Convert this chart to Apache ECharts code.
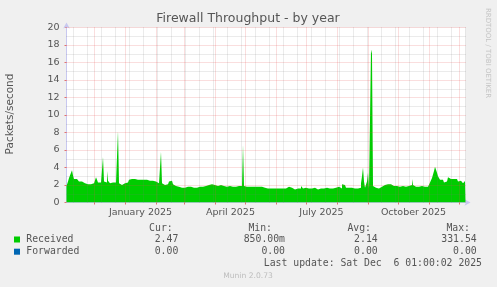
<!DOCTYPE html>
<html><head><meta charset="utf-8">
<script src="https://cdn.jsdelivr.net/npm/echarts@6/dist/echarts.min.js"></script>
<style>html,body{margin:0;padding:0;background:#f0f0f0}#c{width:497px;height:287px}</style>
</head><body><div id="c"></div>
<script>
const chartTitle = 'Firewall Throughput - by year';
const yAxisTitle = 'Packets/second';
const sideText = 'RRDTOOL / TOBI OETIKER';
const footerText = 'Munin 2.0.73';
const lastUpdate = 'Last update: Sat Dec  6 01:00:02 2025';
const firstDay = '2024-11-03';
const dayCount = 400;
const monthNames = ['January','February','March','April','May','June','July','August','September','October','November','December'];
const xLabelDates = ['2025-01-16','2025-04-16','2025-07-16','2025-10-16'];
const seriesNames = ['Received', 'Forwarded'];
const seriesColors = ['#00cc00', '#0066b3'];
const statHeaders = ['Cur:', 'Min:', 'Avg:', 'Max:'];
const receivedStats = ['2.47', '850.00m', '2.14', '331.54'];
const forwardedStats = ['0.00', '0.00', '0.00', '0.00'];
// daily average packets/second, one value per day from firstDay
const received = [
 1.9,2.1,2.4,2.8,3.0,3.4,3.7,3.1,2.7,2.6,2.7,2.5,2.6,2.4,2.3,2.4,2.3,2.2,2.2,2.1,
 2.0,2.1,2.0,2.0,2.1,2.0,2.1,2.2,2.1,2.4,2.9,2.6,2.3,2.2,2.3,2.1,2.2,5.2,2.4,2.2,
 2.3,3.6,2.5,2.3,2.2,2.4,2.3,2.2,2.4,2.3,2.2,2.3,8.2,2.2,2.1,2.0,2.1,2.0,2.2,2.1,
 2.2,2.3,2.5,2.6,2.5,2.7,2.8,2.6,2.7,2.9,2.7,2.6,2.8,2.7,2.6,2.7,2.8,2.6,2.7,2.5,
 2.6,2.7,2.6,2.5,2.7,2.6,2.5,2.6,2.5,2.4,2.6,2.3,2.2,2.1,2.4,5.8,2.2,2.1,2.0,2.1,
 2.0,2.1,2.2,2.4,2.6,2.5,2.3,2.1,2.0,1.9,1.9,1.8,1.8,1.9,1.8,1.7,1.8,1.7,1.7,1.8,
 1.7,1.8,1.7,1.7,1.8,1.7,1.6,1.7,1.7,1.8,1.7,1.7,1.8,1.8,1.7,1.8,1.8,1.7,1.8,1.9,
 2.0,2.1,2.0,1.9,2.0,2.1,2.0,1.9,2.0,1.9,1.8,1.9,1.8,1.9,2.0,1.9,1.8,1.9,1.8,1.9,
 1.8,1.9,2.0,1.9,1.8,1.9,1.8,1.9,1.9,1.8,1.9,1.8,1.9,1.9,1.8,1.9,1.8,6.6,1.9,1.8,
 1.8,1.9,1.8,1.8,1.9,1.8,1.8,1.7,1.8,1.8,1.9,1.8,1.8,1.7,1.8,1.8,1.7,1.8,1.7,1.8,
 1.7,1.6,1.6,1.7,1.6,1.6,1.7,1.6,1.6,1.5,1.6,1.6,1.7,1.6,1.6,1.7,1.6,1.7,1.6,1.6,
 1.7,1.6,1.8,1.7,1.6,1.7,1.6,1.6,1.5,1.6,1.7,1.6,1.6,1.7,1.6,1.9,1.7,1.6,1.6,1.7,
 1.6,1.7,1.6,1.6,1.5,1.6,1.7,1.6,1.7,1.6,1.6,1.5,1.6,1.7,1.6,1.6,1.7,1.6,1.7,1.7,
 1.7,1.6,1.7,1.6,1.6,1.7,1.6,1.7,1.6,1.7,1.6,1.7,1.8,1.6,1.7,1.6,2.1,2.2,2.0,1.8,
 1.7,1.6,1.7,1.6,1.7,1.7,1.6,1.7,1.6,1.7,1.7,1.6,1.7,1.8,1.7,2.2,3.0,4.0,2.4,1.7,
 1.8,2.4,3.4,1.6,1.6,17.5,17.0,1.9,1.7,1.7,1.6,1.7,1.6,1.7,1.7,1.8,1.7,1.8,2.0,2.1,
 2.2,2.1,2.2,2.0,2.1,2.2,2.0,1.9,1.9,1.8,1.9,1.8,1.9,1.8,1.9,2.0,1.9,1.8,1.9,1.8,
 1.9,1.8,1.9,2.0,1.9,2.0,2.7,2.0,1.9,1.8,1.9,1.9,1.8,1.9,1.8,1.9,2.0,1.9,1.8,1.9,
 1.9,1.8,1.9,2.0,2.3,2.5,2.8,3.2,3.6,4.1,4.2,3.4,3.0,2.8,2.6,2.5,2.6,2.4,2.3,2.5,
 2.4,2.6,2.9,2.8,2.7,2.9,2.8,2.7,2.6,2.8,2.7,2.5,2.4,2.6,2.5,2.4,2.3,2.2,2.3,2.47
];

const DAY = 86400000;
const t0 = Date.parse(firstDay + 'T00:00:00Z');
const toDay = t => (t - t0) / DAY;               // day offset on the x axis
const lastDay = dayCount - 1;
const seriesData = received.map((v, i) => [i, v]);

// grid structure: month starts (major) and fortnight lines (minor)
const monthStarts = [];
for (let y = 2024, m = 10; ; m++) {
  if (m > 11) { m = 0; y++; }
  const d = toDay(Date.UTC(y, m, 1));
  if (d > lastDay) break;
  if (d >= 0) monthStarts.push(d);
}
const minorLines = [];
for (let d = toDay(Date.parse('2024-11-10T00:00:00Z')); d <= lastDay; d += 14) minorLines.push(d);
const labelDays = xLabelDates.map(s => toDay(Date.parse(s + 'T00:00:00Z')));

const RED = 'rgba(230,80,80,0.38)';
const GRAY = 'rgba(120,120,120,0.3)';
const gridMarks = [];
minorLines.forEach(d => gridMarks.push({xAxis: d, lineStyle: {color: GRAY}}));
monthStarts.forEach(d => gridMarks.push({xAxis: d, lineStyle: {color: RED}}));
for (let v = 1; v <= 20; v++) gridMarks.push({yAxis: v, lineStyle: {color: v % 2 === 0 ? RED : GRAY}});

const mono = '"DejaVu Sans Mono", monospace';
const sans = '"DejaVu Sans", sans-serif';
const TXT = '#555555';

const graphics = [
  {type: 'text', x: 248, y: 19, style: {text: chartTitle, fill: TXT, font: '12.5px ' + sans, textAlign: 'center', textVerticalAlign: 'middle'}},
  {type: 'text', x: 10.5, y: 114, rotation: Math.PI / 2, style: {text: yAxisTitle, fill: TXT, font: '10.5px ' + sans, textAlign: 'center', textVerticalAlign: 'middle'}},
  {type: 'text', x: 488, y: 53, rotation: -Math.PI / 2, style: {text: sideText, fill: '#c4c4c4', font: '7px ' + sans, textAlign: 'center', textVerticalAlign: 'middle'}},
  {type: 'text', x: 248, y: 276, style: {text: footerText, fill: '#bdbdbd', font: '7.6px ' + sans, textAlign: 'center', textVerticalAlign: 'middle'}}
];
const headerRight = [172.7, 272, 371, 470];
const valueRight = [178.3, 285, 377.7, 476.7];
statHeaders.forEach((h, i) => graphics.push({type: 'text', x: headerRight[i], y: 228, style: {text: h, fill: TXT, font: '9.8px ' + mono, textAlign: 'right', textVerticalAlign: 'middle'}}));
const rows = [receivedStats, forwardedStats];
const rowY = [239.5, 251.7];
seriesNames.forEach((n, r) => {
  graphics.push({type: 'rect', shape: {x: 14, y: rowY[r] - 3, width: 6, height: 6}, style: {fill: seriesColors[r]}});
  graphics.push({type: 'text', x: 26.3, y: rowY[r], style: {text: n, fill: TXT, font: '9.8px ' + mono, textAlign: 'left', textVerticalAlign: 'middle'}});
  rows[r].forEach((v, i) => graphics.push({type: 'text', x: valueRight[i], y: rowY[r], style: {text: v, fill: TXT, font: '9.8px ' + mono, textAlign: 'right', textVerticalAlign: 'middle'}}));
});
graphics.push({type: 'text', x: 482, y: 263.3, style: {text: lastUpdate, fill: TXT, font: '9.8px ' + mono, textAlign: 'right', textVerticalAlign: 'middle'}});

const chart = echarts.init(document.getElementById('c'), null, {renderer: 'canvas'});
chart.setOption({
  animation: false,
  backgroundColor: '#f0f0f0',
  grid: {left: 66.5, top: 27.5, width: 399, height: 175, show: true, backgroundColor: '#ffffff', borderWidth: 0},
  xAxis: {
    type: 'value', min: 0, max: lastDay,
    axisLine: {show: true, lineStyle: {color: '#c8c8f0', width: 1}, symbol: ['none', 'arrow'], symbolSize: [5, 6], symbolOffset: [0, 5]},
    axisTick: {show: true, customValues: monthStarts, length: 2, lineStyle: {color: '#e07070'}},
    axisLabel: {customValues: labelDays, margin: 5, fontFamily: sans, fontSize: 9.5, color: TXT,
      formatter: v => { const d = new Date(t0 + v * DAY); return monthNames[d.getUTCMonth()] + ' ' + d.getUTCFullYear(); }},
    splitLine: {show: false}
  },
  yAxis: {
    type: 'value', min: 0, max: 20, interval: 2,
    axisLine: {show: true, lineStyle: {color: '#c8c8f0', width: 1}, symbol: ['none', 'arrow'], symbolSize: [5, 6], symbolOffset: [0, 5]},
    axisTick: {show: true, length: 2, lineStyle: {color: '#e07070'}},
    axisLabel: {margin: 7, fontFamily: sans, fontSize: 9.5, color: TXT},
    splitLine: {show: false}
  },
  series: [
    {type: 'line', name: seriesNames[0], data: seriesData, step: 'middle', showSymbol: false, z: 2,
     lineStyle: {width: 0}, areaStyle: {color: seriesColors[0], opacity: 1}, itemStyle: {color: seriesColors[0]}},
    {type: 'line', data: [], z: 5, silent: true,
     markLine: {silent: true, symbol: ['none', 'none'], label: {show: false}, animation: false,
       lineStyle: {type: [1, 1], width: 1}, data: gridMarks}}
  ],
  graphic: graphics
});
</script></body></html>
